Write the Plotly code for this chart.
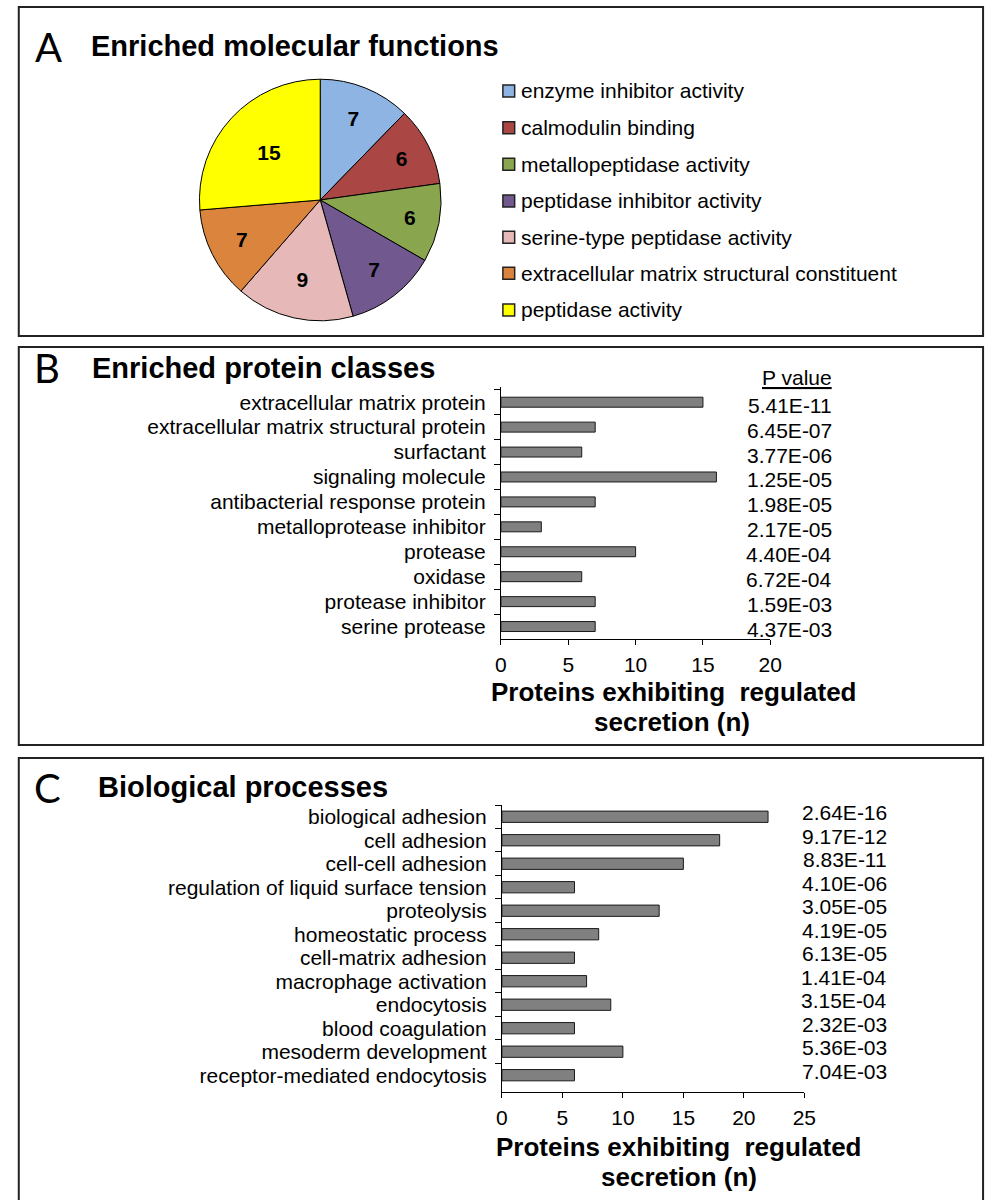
import plotly.graph_objects as go

W, H = 999, 1200

def fx(x):
    return x / W

def fy(y):
    return 1 - y / H

# ---------------- data ----------------
mf_labels = ["enzyme inhibitor activity", "calmodulin binding", "metallopeptidase activity",
             "peptidase inhibitor activity", "serine-type peptidase activity",
             "extracellular matrix structural constituent", "peptidase activity"]
mf_values = [7, 6, 6, 7, 9, 7, 15]
mf_colors = ["#8EB4E3", "#AA4643", "#89A54E", "#71588F", "#E6B9B8", "#DB843D", "#FFFF00"]

pc_labels = ["extracellular matrix protein", "extracellular matrix structural protein", "surfactant",
             "signaling molecule", "antibacterial response protein", "metalloprotease inhibitor",
             "protease", "oxidase", "protease inhibitor", "serine protease"]
pc_values = [15, 7, 6, 16, 7, 3, 10, 6, 7, 7]
pc_pvals = ["5.41E-11", "6.45E-07", "3.77E-06", "1.25E-05", "1.98E-05", "2.17E-05",
            "4.40E-04", "6.72E-04", "1.59E-03", "4.37E-03"]

bp_labels = ["biological adhesion", "cell adhesion", "cell-cell adhesion",
             "regulation of liquid surface tension", "proteolysis", "homeostatic process",
             "cell-matrix adhesion", "macrophage activation", "endocytosis", "blood coagulation",
             "mesoderm development", "receptor-mediated endocytosis"]
bp_values = [22, 18, 15, 6, 13, 8, 6, 7, 9, 6, 10, 6]
bp_pvals = ["2.64E-16", "9.17E-12", "8.83E-11", "4.10E-06", "3.05E-05", "4.19E-05",
            "6.13E-05", "1.41E-04", "3.15E-04", "2.32E-03", "5.36E-03", "7.04E-03"]

b_ticks = [0, 5, 10, 15, 20]
c_ticks = [0, 5, 10, 15, 20, 25]
x_title_1 = "Proteins exhibiting \u00a0regulated"
x_title_2 = "secretion (n)"

FONT = "Liberation Sans, Arial, sans-serif"
LETTER_FONT = "Lato, Open Sans, sans-serif"
TS = 21

fig = go.Figure()

fig.add_trace(go.Pie(
    labels=mf_labels, values=mf_values, sort=False, direction="clockwise", rotation=0,
    marker=dict(colors=mf_colors, line=dict(color="black", width=1)),
    textinfo="value", textposition="inside", insidetextorientation="horizontal",
    textfont=dict(family=FONT, size=21, color="black", weight="bold"),
    domain=dict(x=[fx(197), fx(443)], y=[fy(323), fy(77)]),
    showlegend=False, hoverinfo="label+value",
))

bar_style = dict(marker=dict(color="#808080", line=dict(color="#1a1a1a", width=1)),
                 orientation="h", showlegend=False)

fig.add_trace(go.Bar(x=pc_values, y=pc_labels, xaxis="x", yaxis="y", width=0.4, **bar_style))
fig.add_trace(go.Bar(x=bp_values, y=bp_labels, xaxis="x2", yaxis="y2", width=0.48, **bar_style))

axis_common = dict(showline=True, linecolor="black", linewidth=1, showgrid=False, zeroline=False,
                   ticks="outside", tickcolor="black", tickwidth=1,
                   tickfont=dict(family=FONT, size=TS, color="black"))

fig.update_layout(
    width=W, height=H, margin=dict(l=0, r=0, t=0, b=0),
    paper_bgcolor="white", plot_bgcolor="white",
    xaxis=dict(domain=[fx(504), fx(778.3)], range=[0, 20], anchor="y", tickvals=b_ticks,
               ticklen=5, ticklabelstandoff=2, **axis_common),
    yaxis=dict(domain=[fy(639), fy(386.7)], anchor="x", type="category",
               categoryorder="array", categoryarray=pc_labels, autorange="reversed",
               tickmode="linear", tick0=0, dtick=1,
               tickson="boundaries", ticklen=6, ticklabelstandoff=10, **axis_common),
    xaxis2=dict(domain=[fx(505), fx(813)], range=[0, 25], anchor="y2", tickvals=c_ticks,
                ticklen=5, ticklabelstandoff=2, **axis_common),
    yaxis2=dict(domain=[fy(1091.7), fy(805)], anchor="x2", type="category",
                categoryorder="array", categoryarray=bp_labels, autorange="reversed",
                tickmode="linear", tick0=0, dtick=1,
                tickson="boundaries", ticklen=6, ticklabelstandoff=10, **axis_common),
)

shapes = []
annotations = []

# panel boxes
for (y0, y1) in [(7, 336), (347, 745), (758, 1210)]:
    shapes.append(dict(type="rect", xref="paper", yref="paper", x0=fx(13), x1=fx(995),
                       y0=fy(y1), y1=fy(y0), line=dict(color="#222", width=2),
                       fillcolor="rgba(0,0,0,0)", layer="below"))

# panel letters and titles
for letter, lx, ly, title, tx, ty in [("A", 43, 47, "Enriched molecular functions", 86, 46),
                                       ("B", 42, 368, "Enriched protein classes", 87, 368),
                                       ("C", 42, 788, "Biological processes", 93, 787)]:
    annotations.append(dict(text=letter, xref="paper", yref="paper", x=fx(lx), y=fy(ly),
                            xanchor="center", yanchor="middle", showarrow=False,
                            font=dict(family=LETTER_FONT, size=40, color="black")))
    annotations.append(dict(text="<b>" + title + "</b>", xref="paper", yref="paper",
                            x=fx(tx), y=fy(ty), xanchor="left", yanchor="middle", showarrow=False,
                            borderpad=0, font=dict(family=FONT, size=29, color="black")))

# manual legend for the pie
leg_y = [91, 127.7, 164.3, 201, 237.3, 273.3, 310]
for lab, col, yy in zip(mf_labels, mf_colors, leg_y):
    shapes.append(dict(type="rect", xref="paper", yref="paper", x0=fx(506), x1=fx(518),
                       y0=fy(yy + 6), y1=fy(yy - 6), fillcolor=col,
                       line=dict(color="#222", width=1.5)))
    annotations.append(dict(text=lab, xref="paper", yref="paper", x=fx(523), y=fy(yy),
                            xanchor="left", yanchor="middle", showarrow=False, borderpad=0,
                            font=dict(family=FONT, size=TS, color="black")))

# P values
annotations.append(dict(text="<u>P value</u>", xref="paper", yref="paper", x=fx(842), y=fy(378),
                        xanchor="right", yanchor="middle", showarrow=False, borderpad=0,
                        font=dict(family=FONT, size=TS, color="black")))
for lab, pv in zip(pc_labels, pc_pvals):
    annotations.append(dict(text=pv, xref="paper", yref="y", x=fx(842), y=lab, yshift=-3,
                            xanchor="right", yanchor="middle", showarrow=False, borderpad=0,
                            font=dict(family=FONT, size=TS, color="black")))
for lab, pv in zip(bp_labels, bp_pvals):
    annotations.append(dict(text=pv, xref="paper", yref="y2", x=fx(898.5), y=lab, yshift=4,
                            xanchor="right", yanchor="middle", showarrow=False, borderpad=0,
                            font=dict(family=FONT, size=TS, color="black")))

# axis titles (two bold lines)
for cx1, y1, cx2, y2 in [(680, 692, 678, 722), (685, 1147, 685, 1177)]:
    annotations.append(dict(text="<b>" + x_title_1 + "</b>", xref="paper", yref="paper",
                            x=fx(cx1), y=fy(y1), xanchor="center", yanchor="middle",
                            showarrow=False, borderpad=0,
                            font=dict(family=FONT, size=26, color="black")))
    annotations.append(dict(text="<b>" + x_title_2 + "</b>", xref="paper", yref="paper",
                            x=fx(cx2), y=fy(y2), xanchor="center", yanchor="middle",
                            showarrow=False, borderpad=0,
                            font=dict(family=FONT, size=26, color="black")))

fig.update_layout(shapes=shapes, annotations=annotations)
fig.write_html("out.html")
